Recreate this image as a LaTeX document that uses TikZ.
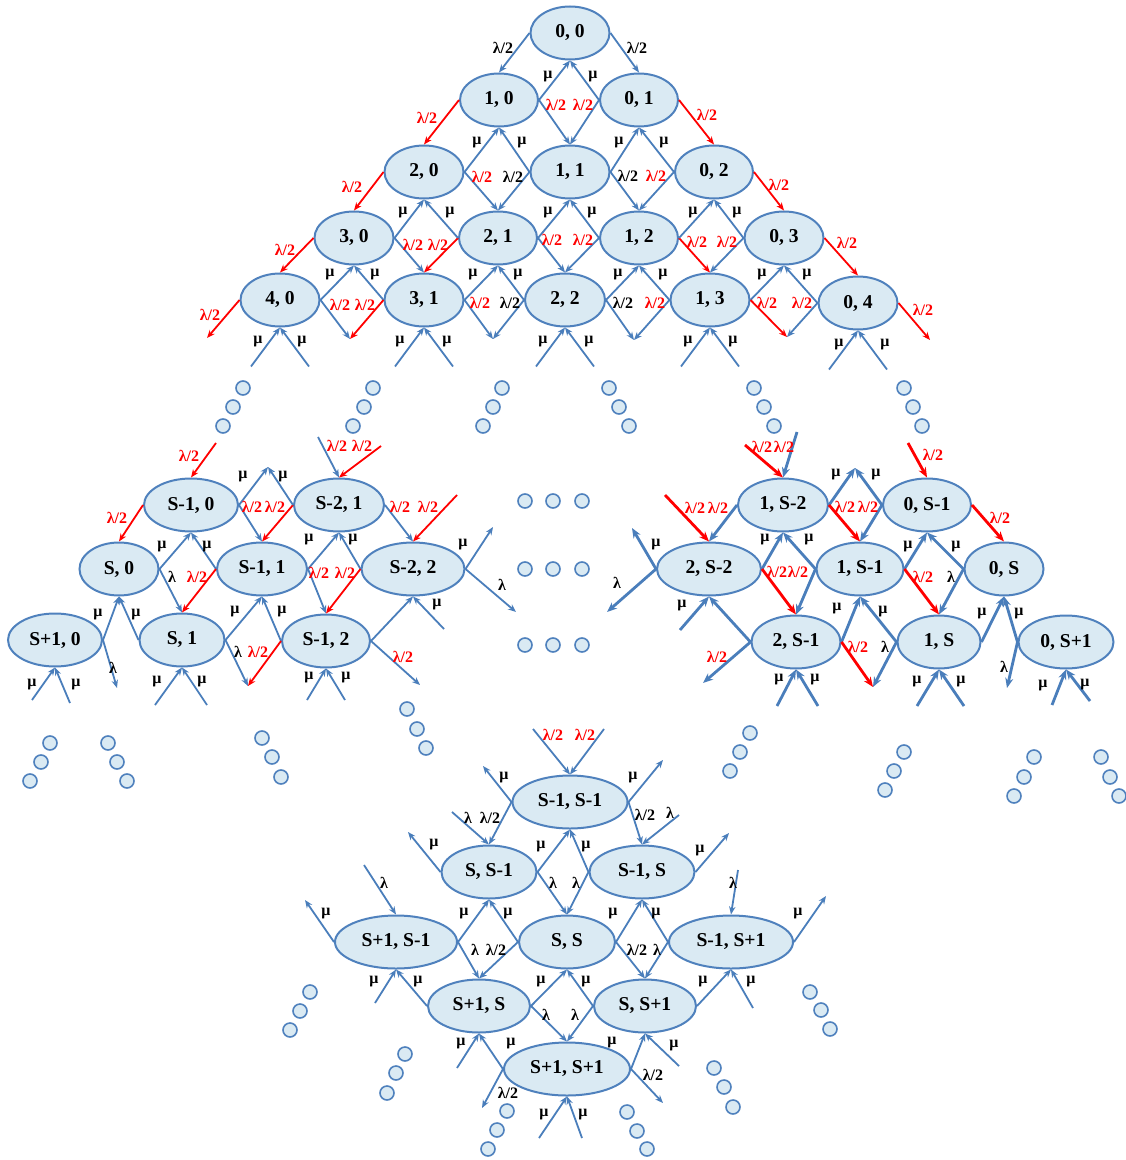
\documentclass[tikz,border=0pt]{standalone}
\usepackage{fontspec}
\setmainfont{Liberation Serif}
\usetikzlibrary{arrows.meta,shapes.geometric}
\definecolor{StateEdge}{HTML}{4F81BD}
\definecolor{StateFill}{HTML}{DAEAF3}
\definecolor{LinkBlue}{HTML}{4A7EBB}
\definecolor{RateRed}{HTML}{FF0000}

\begin{document}
\begin{tikzpicture}[x=0.5pt, y=-0.5pt,
  state/.style={ellipse, draw=StateEdge, line width=1pt, fill=StateFill, inner sep=0pt, minimum height=26.5pt, font=\fontsize{9.8}{11}\selectfont\bfseries},
  link/.style={draw=LinkBlue, line width=0.9pt, -{Stealth[length=4pt,width=3.2pt]}},
  redlink/.style={link, draw=RateRed},
  boldlink/.style={link, line width=1.4pt, -{Stealth[length=5pt,width=4pt]}},
  boldred/.style={boldlink, draw=RateRed},
  rate/.style={inner sep=0pt, font=\fontsize{8}{9}\selectfont\bfseries},
  redrate/.style={rate, text=RateRed},
  dot/.style={circle, draw=StateEdge, fill=StateFill, line width=0.8pt, minimum size=7pt, inner sep=0pt}]
\useasboundingbox (0,0) rectangle (1125,1160);

% top triangle
\foreach \name/\label/\x/\y/\w in {t00/{0, 0}/570/33/39.5pt, t10/{1, 0}/499/100/39pt, t01/{0, 1}/639/100/39pt,
  t20/{2, 0}/424/172/39.5pt, t11/{1, 1}/570/172/39.5pt, t02/{0, 2}/714/172/39pt,
  t30/{3, 0}/354/238/39.5pt, t21/{2, 1}/498/238/39pt, t12/{1, 2}/639/238/39pt, t03/{0, 3}/784/238/39.5pt,
  t40/{4, 0}/280/300/39.5pt, t31/{3, 1}/424/300/39.5pt, t22/{2, 2}/565/300/40pt, t13/{1, 3}/710/300/39.5pt, t04/{0, 4}/858/303/39.5pt}{
  \node[state, minimum width=\w] (\name) at (\x,\y) {\label};
}
\coordinate (tx0) at (207,338);
\coordinate (tx1) at (350,339);
\coordinate (tx2) at (493,339);
\coordinate (tx3) at (634,340);
\coordinate (tx4) at (787,337);
\coordinate (tx5) at (930,340);
\foreach \a/\b in {t00/t10, t01/t11, t11/t21, t02/t12, t12/t22, t03/t13}
  \draw[link] (\a.west)--(\b.north);
\foreach \a/\b in {t10/t20, t20/t30, t30/t40, t21/t31}
  \draw[redlink] (\a.west)--(\b.north);
\foreach \a/\b in {t00/t01, t10/t11, t20/t21, t11/t12, t30/t31, t21/t22}
  \draw[link] (\a.east)--(\b.north);
\foreach \a/\b in {t01/t02, t02/t03, t12/t13, t03/t04}
  \draw[redlink] (\a.east)--(\b.north);
\foreach \a/\b in {t10/t00, t20/t10, t11/t01, t30/t20, t21/t11, t12/t02, t40/t30, t31/t21, t22/t12, t13/t03}
  \draw[link] (\a.east)--(\b.south);
\foreach \a/\b in {t01/t00, t11/t10, t02/t01, t21/t20, t12/t11, t03/t02, t31/t30, t22/t21, t13/t12, t04/t03}
  \draw[link] (\a.west)--(\b.south);
\draw[redlink] (t40.west)--(tx0);
\draw[link] (t40.east)--(tx1);
\draw[redlink] (t31.west)--(tx1);
\draw[link] (t31.east)--(tx2);
\draw[link] (t22.west)--(tx2);
\draw[link] (t22.east)--(tx3);
\draw[link] (t13.west)--(tx3);
\draw[redlink] (t13.east)--(tx4);
\draw[link] (t04.west)--(tx4);
\draw[redlink] (t04.east)--(tx5);
\foreach \name in {t40, t31, t22, t13, t04}{
  \coordinate (\name-in1) at ([shift={(-29,39)}]\name.south);
  \coordinate (\name-in2) at ([shift={(29,39)}]\name.south);
  \draw[link] (\name-in1)--(\name.south);
  \draw[link] (\name-in2)--(\name.south);
}
\foreach \x/\y [count=\i] in {548/77, 593/77, 477/143, 522/143, 619/143, 664/143, 403/213, 450/213, 548/213, 592/213, 693/213, 737/213,
  330/275, 375/275, 473/275, 518/275, 618/275, 663/275, 762/275, 807/275,
  258/342, 302/342, 400/342, 447/342, 543/342, 589/342, 688/342, 733/342, 839/345, 885/345}
  \node[rate] (mut\i) at (\x,\y) {μ};
\foreach \x/\y [count=\i] in {503/48, 637/48, 513/177, 628/176, 510/303, 623/303}
  \node[rate] (lht\i) at (\x,\y) {λ/2};
\foreach \x/\y [count=\i] in {556/105, 583/105, 427/118, 707/115, 352/187, 482/177, 656/176, 779/185, 285/250,
  413/245, 438/245, 552/240, 583/240, 697/242, 727/242, 847/243,
  210/315, 340/305, 365/305, 480/303, 655/303, 767/303, 802/303, 923/310}
  \node[redrate] (lrt\i) at (\x,\y) {λ/2};

% middle left block
\foreach \name/\label/\x/\y/\w in {sm1-0/{S-1, 0}/191/505/47pt, sm2-1/{S-2, 1}/339/505/45pt,
  s-0/{S, 0}/119/569/39.5pt, sm1-1/{S-1, 1}/262/569/45pt, sm2-2/{S-2, 2}/413/569/51.5pt,
  sp1-0/{S+1, 0}/55/640/47pt, s-1/{S, 1}/182/640/42.5pt, sm1-2/{S-1, 2}/326/641/44pt}{
  \node[state, minimum width=\w] (\name) at (\x,\y) {\label};
}
\coordinate (ma) at (216,443);
\coordinate (mp) at (268,467);
\coordinate (mb) at (318,437);
\coordinate (mc) at (381,446);
\coordinate (md) at (457,495);
\coordinate (me) at (493,527);
\coordinate (mf) at (516,612);
\coordinate (mg) at (444,629);
\coordinate (mh) at (420,685);
\coordinate (mi) at (307,700);
\coordinate (mj) at (345,700);
\coordinate (mk) at (248,686);
\coordinate (ml) at (155,705);
\coordinate (mm) at (207,705);
\coordinate (mn) at (117,688);
\coordinate (mo) at (32,700);
\coordinate (mq) at (70,703);
\draw[redlink] (ma)--(sm1-0.north);
\draw[redlink] (sm1-0.west)--(s-0.north);
\draw[link] (sm1-0.east)--(sm1-1.north);
\draw[redlink] (sm2-1.west)--(sm1-1.north);
\draw[link] (sm1-0.east)--(mp);
\draw[link] (sm2-1.west)--(mp);
\draw[link] (mb)--(sm2-1.north);
\draw[redlink] (mc)--(sm2-1.north);
\draw[link] (sm2-1.east)--(sm2-2.north);
\draw[redlink] (md)--(sm2-2.north);
\draw[link] (s-0.east)--(sm1-0.south);
\draw[link] (sm1-1.west)--(sm1-0.south);
\draw[link] (s-0.east)--(s-1.north);
\draw[redlink] (sm1-1.west)--(s-1.north);
\draw[link] (sm1-1.east)--(sm2-1.south);
\draw[link] (sm2-2.west)--(sm2-1.south);
\draw[link] (sm1-1.east)--(sm1-2.north);
\draw[redlink] (sm2-2.west)--(sm1-2.north);
\draw[link] (sm2-2.east)--(me);
\draw[link] (sm2-2.east)--(mf);
\draw[link] (mg)--(sm2-2.south);
\draw[link] (sm1-2.east)--(sm2-2.south);
\draw[link] (sm1-2.east)--(mh);
\draw[link] (mi)--(sm1-2.south);
\draw[link] (mj)--(sm1-2.south);
\draw[link] (s-1.east)--(sm1-1.south);
\draw[link] (sm1-2.west)--(sm1-1.south);
\draw[link] (s-1.east)--(mk);
\draw[redlink] (sm1-2.west)--(mk);
\draw[link] (ml)--(s-1.south);
\draw[link] (mm)--(s-1.south);
\draw[link] (sp1-0.east)--(s-0.south);
\draw[link] (s-1.west)--(s-0.south);
\draw[link] (sp1-0.east)--(mn);
\draw[link] (mo)--(sp1-0.south);
\draw[link] (mq)--(sp1-0.south);
\foreach \x/\y [count=\i] in {189/456, 117/518, 252/507, 275/507, 337/446, 362/446, 400/507, 428/507, 197/577, 319/573, 345/573, 258/652, 403/657}
  \node[redrate] (lrm\i) at (\x,\y) {λ/2};
\foreach \x/\y [count=\i] in {243/477, 283/477, 162/547, 207/547, 309/540, 353/540, 463/545, 437/605, 235/612, 282/612,
  98/615, 136/615, 309/678, 346/678, 157/682, 202/682, 32/685, 76/685}
  \node[rate] (mum\i) at (\x,\y) {μ};
\foreach \x/\y [count=\i] in {172/577, 502/585, 238/652, 113/668}
  \node[rate] (lam\i) at (\x,\y) {λ};

% middle right block
\foreach \name/\label/\x/\y/\w in {r1-sm2/{1, S-2}/783/505/45pt, r0-sm1/{0, S-1}/927/505/44pt,
  r2-sm2/{2, S-2}/709/569/52pt, r1-sm1/{1, S-1}/860/569/43.5pt, r0-s/{0, S}/1004/569/39.5pt,
  r2-sm1/{2, S-1}/796/642/44.5pt, r1-s/{1, S}/939/642/41.5pt, r0-sp1/{0, S+1}/1066/642/47.5pt}{
  \node[state, minimum width=\w] (\name) at (\x,\y) {\label};
}
\coordinate (ra) at (745,445);
\coordinate (rb) at (797,432);
\coordinate (rc) at (665,495);
\coordinate (rp) at (855,468);
\coordinate (rd) at (908,443);
\coordinate (re) at (632,528);
\coordinate (rf) at (607,612);
\coordinate (rg) at (680,630);
\coordinate (rh) at (703,683);
\coordinate (ri) at (873,687);
\coordinate (rj) at (1007,688);
\coordinate (rk) at (777,706);
\coordinate (rl) at (818,706);
\coordinate (rm) at (917,706);
\coordinate (rn) at (964,706);
\coordinate (ro) at (1052,705);
\coordinate (rq) at (1090,701);
\draw[boldred] (ra)--(r1-sm2.north);
\draw[boldlink] (rb)--(r1-sm2.north);
\draw[boldred] (rc)--(r2-sm2.north);
\draw[boldlink] (r1-sm2.west)--(r2-sm2.north);
\draw[boldlink] (r1-sm2.east)--(rp);
\draw[boldlink] (r0-sm1.west)--(rp);
\draw[boldred] (r1-sm2.east)--(r1-sm1.north);
\draw[boldlink] (r0-sm1.west)--(r1-sm1.north);
\draw[boldred] (rd)--(r0-sm1.north);
\draw[boldred] (r0-sm1.east)--(r0-s.north);
\draw[boldlink] (r2-sm2.west)--(re);
\draw[boldlink] (r2-sm2.west)--(rf);
\draw[boldlink] (r2-sm2.east)--(r1-sm2.south);
\draw[boldlink] (r1-sm1.west)--(r1-sm2.south);
\draw[boldred] (r2-sm2.east)--(r2-sm1.north);
\draw[boldlink] (r1-sm1.west)--(r2-sm1.north);
\draw[boldlink] (r1-sm1.east)--(r0-sm1.south);
\draw[boldlink] (r0-s.west)--(r0-sm1.south);
\draw[boldred] (r1-sm1.east)--(r1-s.north);
\draw[boldlink] (r0-s.west)--(r1-s.north);
\draw[boldlink] (rg)--(r2-sm2.south);
\draw[boldlink] (r2-sm1.west)--(r2-sm2.south);
\draw[boldlink] (r2-sm1.west)--(rh);
\draw[boldlink] (r2-sm1.east)--(r1-sm1.south);
\draw[boldlink] (r1-s.west)--(r1-sm1.south);
\draw[boldred] (r2-sm1.east)--(ri);
\draw[boldlink] (r1-s.west)--(ri);
\draw[boldlink] (r1-s.east)--(r0-s.south);
\draw[boldlink] (r0-sp1.west)--(r0-s.south);
\draw[boldlink] (r0-sp1.west)--(rj);
\draw[boldlink] (rk)--(r2-sm1.south);
\draw[boldlink] (rl)--(r2-sm1.south);
\draw[boldlink] (rm)--(r1-s.south);
\draw[boldlink] (rn)--(r1-s.south);
\draw[boldlink] (ro)--(r0-sp1.south);
\draw[boldlink] (rq)--(r0-sp1.south);
\foreach \x/\y [count=\i] in {762/447, 784/447, 695/508, 718/508, 845/507, 868/507, 933/455, 1000/518, 777/572, 798/572, 923/577, 717/657, 858/647}
  \node[redrate] (lrr\i) at (\x,\y) {λ/2};
\foreach \x/\y [count=\i] in {617/583, 951/577, 885/647, 1004/667}
  \node[rate] (lar\i) at (\x,\y) {λ};
\foreach \x/\y [count=\i] in {836/475, 876/475, 656/545, 765/540, 809/540, 908/547, 956/547, 682/606, 837/609, 883/612,
  982/614, 1019/614, 779/680, 815/680, 917/682, 961/682, 1043/686, 1085/685}
  \node[rate] (mur\i) at (\x,\y) {μ};

% bottom block
\foreach \name/\label/\x/\y/\w in {b-sm1-sm1/{S-1, S-1}/570/802/57.5pt,
  b-s-sm1/{S, S-1}/489/872/47.5pt, b-sm1-s/{S-1, S}/642/872/52.5pt,
  b-sp1-sm1/{S+1, S-1}/396/942/61pt, b-s-s/{S, S}/567/942/48pt, b-sm1-sp1/{S-1, S+1}/731/942/62pt,
  b-sp1-s/{S+1, S}/479/1006/51pt, b-s-sp1/{S, S+1}/645/1006/51pt,
  b-sp1-sp1/{S+1, S+1}/567/1069/63pt}{
  \node[state, minimum width=\w] (\name) at (\x,\y) {\label};
}
\coordinate (ba) at (533,729);
\coordinate (bb) at (604,729);
\coordinate (bc) at (483,766);
\coordinate (bd) at (452,812);
\coordinate (be) at (663,760);
\coordinate (bf) at (679,815);
\coordinate (bg) at (408,832);
\coordinate (bh) at (729,833);
\coordinate (bi) at (364,865);
\coordinate (bj) at (305,900);
\coordinate (bk) at (738,870);
\coordinate (bl) at (826,896);
\coordinate (bm) at (375,1003);
\coordinate (bn) at (753,1008);
\coordinate (bo) at (457,1068);
\coordinate (bq) at (679,1066);
\coordinate (br) at (482,1108);
\coordinate (bs) at (663,1103);
\coordinate (bt) at (539,1138);
\coordinate (bu) at (582,1138);
\draw[link] (ba)--(b-sm1-sm1.north);
\draw[link] (bb)--(b-sm1-sm1.north);
\draw[link] (b-sm1-sm1.west)--(bc);
\draw[link] (b-sm1-sm1.west)--(b-s-sm1.north);
\draw[link] (bd)--(b-s-sm1.north);
\draw[link] (b-sm1-sm1.east)--(be);
\draw[link] (b-sm1-sm1.east)--(b-sm1-s.north);
\draw[link] (bf)--(b-sm1-s.north);
\draw[link] (b-s-sm1.west)--(bg);
\draw[link] (b-s-sm1.east)--(b-sm1-sm1.south);
\draw[link] (b-sm1-s.west)--(b-sm1-sm1.south);
\draw[link] (b-s-sm1.east)--(b-s-s.north);
\draw[link] (b-sm1-s.west)--(b-s-s.north);
\draw[link] (b-sm1-s.east)--(bh);
\draw[link] (bi)--(b-sp1-sm1.north);
\draw[link] (b-sp1-sm1.west)--(bj);
\draw[link] (bk)--(b-sm1-sp1.north);
\draw[link] (b-sm1-sp1.east)--(bl);
\draw[link] (b-sp1-sm1.east)--(b-s-sm1.south);
\draw[link] (b-s-s.west)--(b-s-sm1.south);
\draw[link] (b-sp1-sm1.east)--(b-sp1-s.north);
\draw[link] (b-s-s.west)--(b-sp1-s.north);
\draw[link] (b-s-s.east)--(b-sm1-s.south);
\draw[link] (b-sm1-sp1.west)--(b-sm1-s.south);
\draw[link] (b-s-s.east)--(b-s-sp1.north);
\draw[link] (b-sm1-sp1.west)--(b-s-sp1.north);
\draw[link] (bm)--(b-sp1-sm1.south);
\draw[link] (b-sp1-s.west)--(b-sp1-sm1.south);
\draw[link] (b-sp1-s.east)--(b-s-s.south);
\draw[link] (b-s-sp1.west)--(b-s-s.south);
\draw[link] (b-s-sp1.east)--(b-sm1-sp1.south);
\draw[link] (bn)--(b-sm1-sp1.south);
\draw[link] (b-sp1-s.east)--(b-sp1-sp1.north);
\draw[link] (b-s-sp1.west)--(b-sp1-sp1.north);
\draw[link] (bo)--(b-sp1-s.south);
\draw[link] (b-sp1-sp1.west)--(b-sp1-s.south);
\draw[link] (b-sp1-sp1.east)--(b-s-sp1.south);
\draw[link] (bq)--(b-s-sp1.south);
\draw[link] (b-sp1-sp1.west)--(br);
\draw[link] (b-sp1-sp1.east)--(bs);
\draw[link] (bt)--(b-sp1-sp1.south);
\draw[link] (bu)--(b-sp1-sp1.south);
\foreach \x/\y [count=\i] in {553/735, 585/735}
  \node[redrate] (lrb\i) at (\x,\y) {λ/2};
\foreach \x/\y [count=\i] in {504/778, 633/778, 434/845, 541/847, 586/847, 700/851, 326/914, 464/914, 508/914, 613/914, 656/914, 798/914,
  374/982, 418/982, 541/982, 586/982, 703/982, 751/982, 461/1044, 511/1044, 612/1043, 674/1046, 544/1115, 583/1115}
  \node[rate] (mub\i) at (\x,\y) {μ};
\foreach \x/\y [count=\i] in {490/818, 645/815, 496/950, 637/950, 508/1093, 653/1075}
  \node[rate] (lhb\i) at (\x,\y) {λ/2};
\foreach \x/\y [count=\i] in {468/818, 670/813, 384/883, 553/883, 576/883, 733/883, 475/950, 657/950, 546/1015, 575/1015}
  \node[rate] (lab\i) at (\x,\y) {λ};

% ellipsis dots
\foreach \x/\y [count=\i] in {243/388, 233/407, 223/426, 373/388, 364/407, 353/426, 502/388, 493/407, 483/426,
  609/388, 619/407, 629/426, 754/388, 764/407, 774/426, 904/388, 913/407, 922/426,
  525/501, 553/501, 582/501, 525/569, 553/569, 582/569, 525/645, 553/645, 582/645,
  50/743, 41/762, 30/781, 108/743, 117/762, 127/781, 262/738, 272/757, 281/777, 407/709, 417/729, 426/748,
  750/733, 740/752, 730/771, 904/752, 894/771, 885/790, 1034/757, 1024/777, 1014/796, 1101/757, 1110/777, 1119/796,
  310/992, 300/1011, 290/1030, 405/1054, 396/1073, 387/1093, 507/1111, 497/1130, 488/1149,
  627/1112, 637/1131, 647/1149, 714/1068, 724/1087, 733/1107, 810/992, 821/1010, 830/1029}
  \node[dot] (dot\i) at (\x,\y) {};
\end{tikzpicture}
\end{document}
